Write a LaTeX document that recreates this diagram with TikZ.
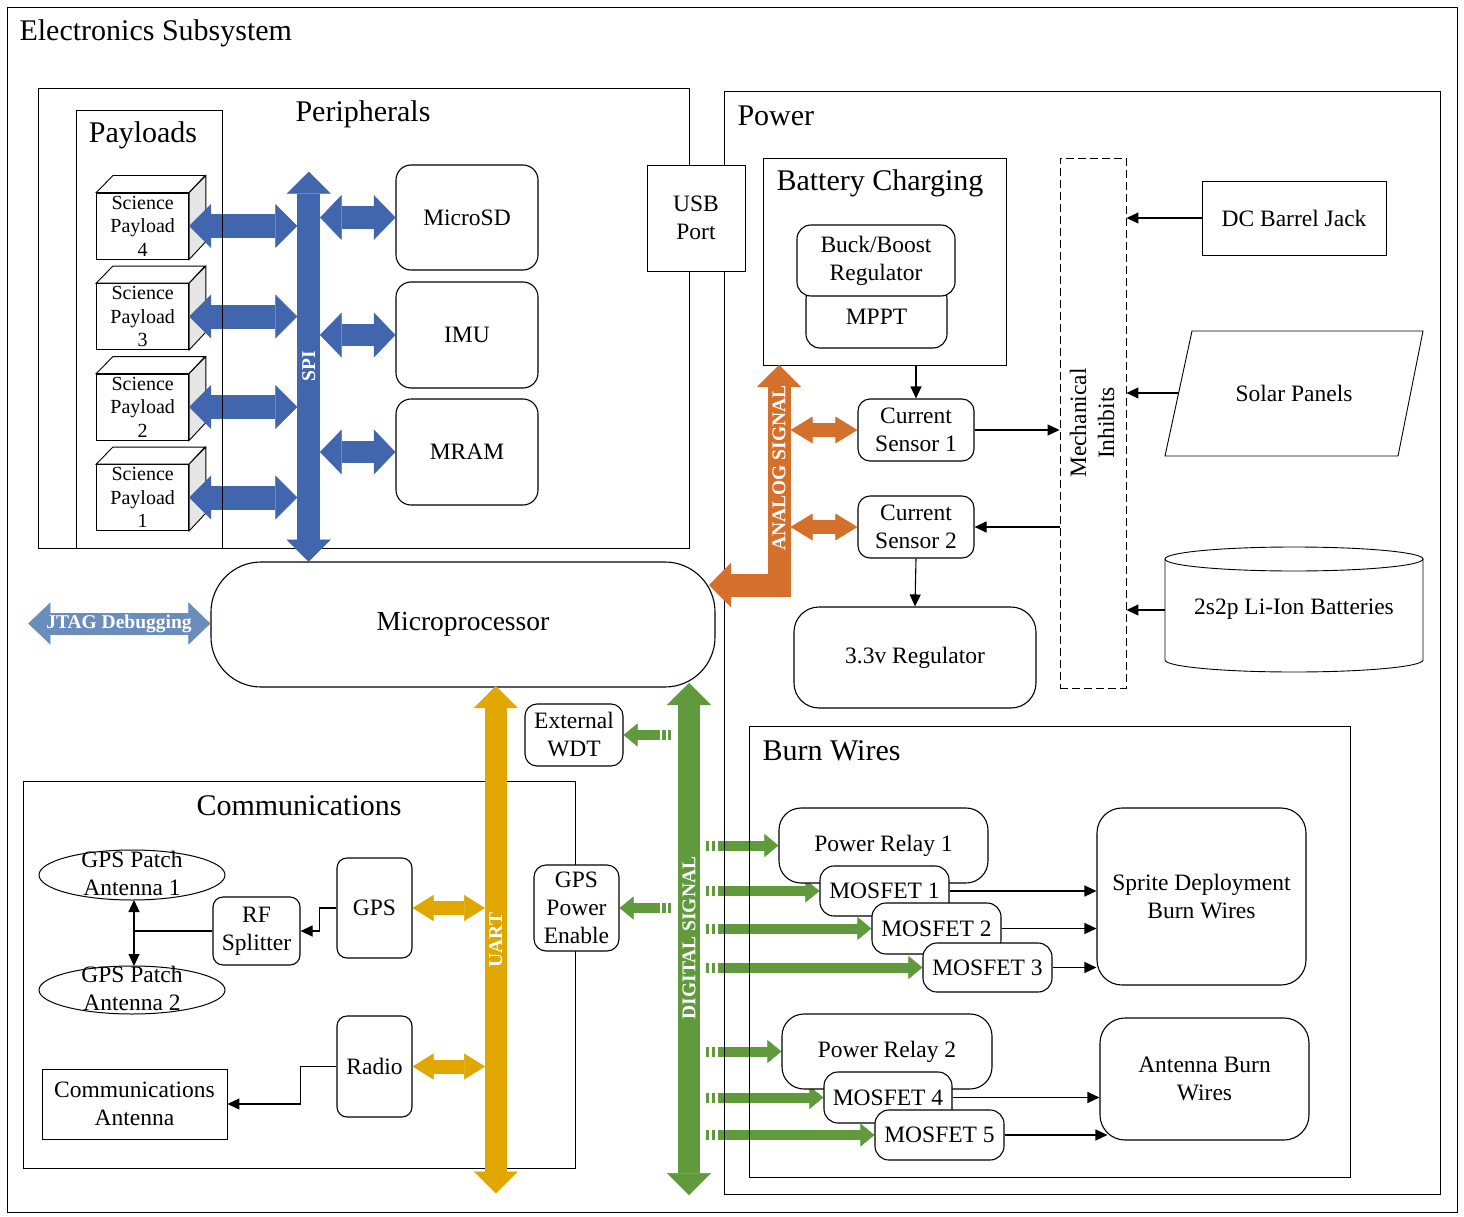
\documentclass[tikz,border=0pt]{standalone}
\usepackage{fontspec}
\setmainfont{Liberation Serif}
\usetikzlibrary{arrows.meta,calc}
\pgfdeclarelayer{bg}
\pgfsetlayers{bg,main}
\definecolor{spiblue}{HTML}{4166AE}
\definecolor{anaorange}{HTML}{D4702B}
\definecolor{uartgold}{HTML}{DFA700}
\definecolor{diggreen}{HTML}{619A3D}
\definecolor{jtagblue}{HTML}{6B8DBB}
\definecolor{cubegray}{HTML}{E6E6E6}
\newcommand\nfont{\fontsize{23.5pt}{28pt}\selectfont}
\newcommand\hfont{\fontsize{30pt}{34pt}\selectfont}
\newcommand\sfont{\fontsize{20pt}{23.5pt}\selectfont}
\newcommand\mfont{\fontsize{27.5pt}{32pt}\selectfont}
\newcommand\lfont{\fontsize{19.5pt}{22pt}\selectfont\bfseries}
\begin{document}
\begin{tikzpicture}[x=1pt,y=-1pt,line width=1.1pt,
  frame/.style={draw,line width=1pt,inner sep=0pt,anchor=north west},
  blk/.style={draw,fill=white,line width=1.1pt,align=center,inner sep=0pt,font=\nfont},
  sblk/.style={blk,line width=0.9pt},
  rblk/.style={blk,rounded corners=#1},rblk/.default=14pt,
  heading/.style={font=\hfont,inner sep=0pt},
  txt/.style={font=\nfont,align=center,inner sep=0pt},
  buslabel/.style={text=white,font=\lfont,rotate=90,inner sep=0pt},
  bigarr/.style n args={4}{draw=#1,line width=#2,{Triangle[length=#4,width=#3,line width=0.5pt]}-{Triangle[length=#4,width=#3,line width=0.5pt]}},
  garr/.style={draw=diggreen,line width=10pt,dash pattern=on 3pt off 2.5pt on 3.5pt off 2.5pt on 2000pt off 1pt,-{Triangle[length=14pt,width=23pt,line width=0.5pt]}},
  conn/.style={line width=1.1pt,-{Triangle[length=12pt,width=11pt]}},
  dconn/.style={line width=1.1pt,{Triangle[length=12pt,width=11pt]}-{Triangle[length=12pt,width=11pt]}}]
\useasboundingbox (0,0) rectangle (1464,1217);
% frames
\node[frame,minimum width=1450pt,minimum height=1205pt] (outer) at (7,7) {};
\node[frame,minimum width=651pt,minimum height=460pt] (periph) at (38,88) {};
\node[frame,minimum width=146pt,minimum height=438pt] (payloads) at (76,110) {};
\node[frame,minimum width=716pt,minimum height=1103pt] (power) at (724,91) {};
\node[frame,minimum width=243pt,minimum height=207pt] (battbox) at (763,158) {};
\node[frame,minimum width=601pt,minimum height=451pt] (burn) at (749,726) {};
\node[frame,minimum width=552pt,minimum height=387pt] (comm) at (23,781) {};
% headings
\node[heading,anchor=west] (title) at (19,33) {Electronics Subsystem};
\node[heading] (periphT) at (363,114) {Peripherals};
\node[heading] (payT) at (143,135) {Payloads};
\node[heading,anchor=west] (powT) at (737,116) {Power};
\node[heading] (batT) at (880,183) {Battery Charging};
\node[heading,anchor=west] (burnT) at (762,751) {Burn Wires};
\node[heading] (commT) at (299,806) {Communications};
% coordinates
\coordinate (spiL) at (297.3,0);
\coordinate (spiR) at (320,0);
\coordinate (anaR) at (790.5,0);
\coordinate (uartL) at (485,0);
\coordinate (wsR) at (671,0);
\coordinate (dsR) at (706,0);
% payload cubes
\begin{pgfonlayer}{bg}
\foreach \n/\y in {4/226,3/316.5,2/407,1/497.5}{
  \node[blk,font=\sfont,minimum width=92pt,minimum height=66pt,line width=0.9pt] (p\n) at (142.7,\y) {Science\\Payload\\\n};
  \draw[line width=0.9pt,fill=white] (p\n.north west) -- ++(16.7,-17) -- ++(92,0) -- (p\n.north east) -- cycle;
  \draw[line width=0.9pt,fill=cubegray] (p\n.north east) -- ++(16.7,-17) -- ++(0,66) -- (p\n.south east) -- cycle;
  \draw[bigarr={spiblue}{24pt}{44pt}{22pt}] (p\n.east) -- (p\n.east -| spiL);
}
\end{pgfonlayer}
% peripherals
\node[rblk=15pt,minimum width=142pt,minimum height=105pt] (microsd) at (467,217.5) {MicroSD};
\node[rblk=15pt,minimum width=142pt,minimum height=106pt] (imu) at (467,335) {IMU};
\node[rblk=15pt,minimum width=142pt,minimum height=106pt] (mram) at (467,452) {MRAM};
\node[sblk,minimum width=98pt,minimum height=106pt] (usb) at (696,218) {USB\\Port};
% power
\node[rblk=14pt,minimum width=141pt,minimum height=63pt] (mppt) at (876.5,316.5) {MPPT};
\node[rblk=14pt,minimum width=158pt,minimum height=71pt] (buck) at (876,260.5) {Buck/Boost\\Regulator};
\node[rblk=12pt,minimum width=116pt,minimum height=62pt] (cs1) at (916,430) {Current\\Sensor 1};
\node[rblk=12pt,minimum width=116pt,minimum height=62pt] (cs2) at (916,527) {Current\\Sensor 2};
\node[rblk=25pt,minimum width=242pt,minimum height=101pt] (reg) at (915,657.5) {3.3v Regulator};
\node[draw,line width=0.9pt,dash pattern=on 8pt off 4pt,minimum width=66pt,minimum height=530pt,inner sep=0pt] (inhib) at (1093,423) {};
\node[txt,rotate=90] (inhibT) at (1092,423) {Mechanical\\Inhibits};
\node[sblk,minimum width=184pt,minimum height=74pt] (dcjack) at (1294,218) {DC Barrel Jack};
\draw[line width=0.9pt,fill=white] (1192,331) -- (1423,331) -- (1398,456) -- (1165,456) -- cycle;
\node[txt] (solar) at (1294,393) {Solar Panels};
\coordinate (solarL) at (1178.6,393);
\draw[line width=0.9pt,fill=white] (1165,559) -- (1165,660) arc[start angle=180,end angle=360,x radius=129pt,y radius=12pt] -- (1423,559) -- cycle;
\draw[line width=0.9pt,fill=white] (1294,559) ellipse [x radius=129pt,y radius=12pt];
\node[txt] (batt) at (1294,609) {2s2p Li-Ion Batteries};
\coordinate (battL) at (1165,610);
% burn wires
\node[rblk=22pt,minimum width=209pt,minimum height=75pt] (pr1) at (883.5,845.5) {Power Relay 1};
\node[rblk,minimum width=129pt,minimum height=50pt] (m1) at (884.5,891) {MOSFET 1};
\node[rblk,minimum width=129pt,minimum height=51pt] (m2) at (936.5,928.5) {MOSFET 2};
\node[rblk,minimum width=129pt,minimum height=49pt] (m3) at (987.5,967.5) {MOSFET 3};
\node[rblk=25pt,minimum width=209pt,minimum height=177pt] (sprite) at (1201.5,896.5) {Sprite Deployment\\Burn Wires};
\node[rblk=22pt,minimum width=210pt,minimum height=75pt] (pr2) at (887,1051.5) {Power Relay 2};
\node[rblk,minimum width=128pt,minimum height=51pt] (m4) at (888,1097.5) {MOSFET 4};
\node[rblk,minimum width=129pt,minimum height=50pt] (m5) at (939.5,1135) {MOSFET 5};
\node[rblk=25pt,minimum width=209pt,minimum height=122pt] (antburn) at (1204.5,1079) {Antenna Burn\\Wires};
% micro, wdt, gps power
\node[rblk=50pt,minimum width=504pt,minimum height=125pt,font=\mfont] (mcu) at (463,624.5) {Microprocessor};
\node[rblk=12pt,minimum width=98pt,minimum height=62pt] (wdt) at (574,735) {External\\WDT};
\node[rblk=12pt,minimum width=85pt,minimum height=86pt] (gpe) at (576.5,908) {GPS\\Power\\Enable};
% communications
\node[rblk=10pt,minimum width=75pt,minimum height=100pt] (gps) at (374.5,908) {GPS};
\node[rblk=10pt,minimum width=75pt,minimum height=101pt] (radio) at (374.5,1066.5) {Radio};
\node[rblk=10pt,minimum width=87pt,minimum height=68pt] (rf) at (256.5,931) {RF\\Splitter};
\node[sblk,minimum width=185pt,minimum height=70pt] (commant) at (134.5,1104) {Communications\\Antenna};
\draw[line width=1pt] (132,875) ellipse [x radius=93pt,y radius=25pt];
\node[txt] (ant1) at (132,873.5) {GPS Patch\\Antenna 1};
\draw[line width=1pt] (132,990) ellipse [x radius=93pt,y radius=24pt];
\node[txt] (ant2) at (132,988) {GPS Patch\\Antenna 2};
\coordinate (ant1b) at (134,900);
\coordinate (ant2t) at (134,966);
% black connectors
\draw[conn] (dcjack.west) -- (dcjack.west -| inhib.east);
\draw[conn] (solarL) -- (solarL -| inhib.east);
\draw[conn] (battL) -- (battL -| inhib.east);
\draw[conn] (cs1.east) -- (cs1.east -| inhib.west);
\draw[conn] (cs2.east -| inhib.west) -- (cs2.east);
\draw[conn] (cs1.north |- battbox.south) -- (cs1.north);
\draw[conn] (cs2.south) -- (reg.north);
\draw[conn] (m1.east) -- (m1.east -| sprite.west);
\draw[conn] (m2.east) -- (m2.east -| sprite.west);
\draw[conn] (m3.east) -- (m3.east -| sprite.west);
\draw[conn] (m4.east) -- (m4.east -| antburn.west);
\draw[conn] (m5.east) -- ([xshift=8pt]m5.east -| antburn.west);
\draw[conn] (gps.west) -- ++(-17,0) |- (rf.east);
\draw[conn] (radio.west) -- ++(-36,0) |- (commant.east);
\draw[line width=1.1pt] (rf.west) -- (rf.west -| ant1b);
\draw[dconn] (ant1b) -- (ant2t);
% SPI bus
\coordinate (spiT) at (308.7,171.7);
\coordinate (spiB) at (308.7,561.7);
\draw[bigarr={spiblue}{23pt}{44pt}{22pt}] (spiT) -- (spiB);
\node[buslabel] (spiLab) at (308.7,366) {SPI};
\foreach \b in {microsd,imu,mram}
  \draw[bigarr={spiblue}{22.7pt}{45pt}{21.7pt}] (\b.west -| spiR) -- (\b.west);
% analog
\coordinate (anaT) at (779,365);
\coordinate (anaC) at (779,585);
\coordinate (anaL) at (709,585);
\draw[bigarr={anaorange}{23pt}{44pt}{22pt}] (anaT) -- (anaC) -- (anaL);
\node[buslabel] (anaLab) at (779,468) {ANALOG SIGNAL};
\draw[bigarr={anaorange}{13.3pt}{26.7pt}{22pt}] (cs1.west -| anaR) -- (cs1.west);
\draw[bigarr={anaorange}{13.3pt}{26.7pt}{22pt}] (cs2.west -| anaR) -- (cs2.west);
% UART
\coordinate (uartT) at (495.8,686);
\coordinate (uartB) at (495.8,1193.5);
\draw[bigarr={uartgold}{21.7pt}{44pt}{22pt}] (uartT) -- (uartB);
\node[buslabel] (uartLab) at (495.8,940) {UART};
\draw[bigarr={uartgold}{14pt}{26pt}{21pt}] (gps.east) -- (gps.east -| uartL);
\draw[bigarr={uartgold}{14pt}{26pt}{21pt}] (radio.east) -- (radio.east -| uartL);
% digital
\coordinate (digT) at (689,683);
\coordinate (digB) at (689,1195);
\draw[bigarr={diggreen}{22pt}{44pt}{22pt}] (digT) -- (digB);
\node[buslabel] (digLab) at (689,938) {DIGITAL SIGNAL};
\draw[garr] (wdt.east -| wsR) -- (wdt.east);
\draw[garr] (gpe.east -| wsR) -- (gpe.east);
\begin{pgfonlayer}{bg}
\foreach \t in {pr1,m1,m2,m3,pr2,m4,m5}
  \draw[garr] (\t.west -| dsR) -- (\t.west);
\end{pgfonlayer}
% JTAG
\coordinate (jtagL) at (28.3,623.5);
\draw[bigarr={jtagblue}{22pt}{42pt}{22pt}] (jtagL) -- (jtagL -| mcu.west);
\node[text=white,font=\lfont,inner sep=0pt] (jtagLab) at (119,623.5) {JTAG Debugging};
\end{tikzpicture}
\end{document}
